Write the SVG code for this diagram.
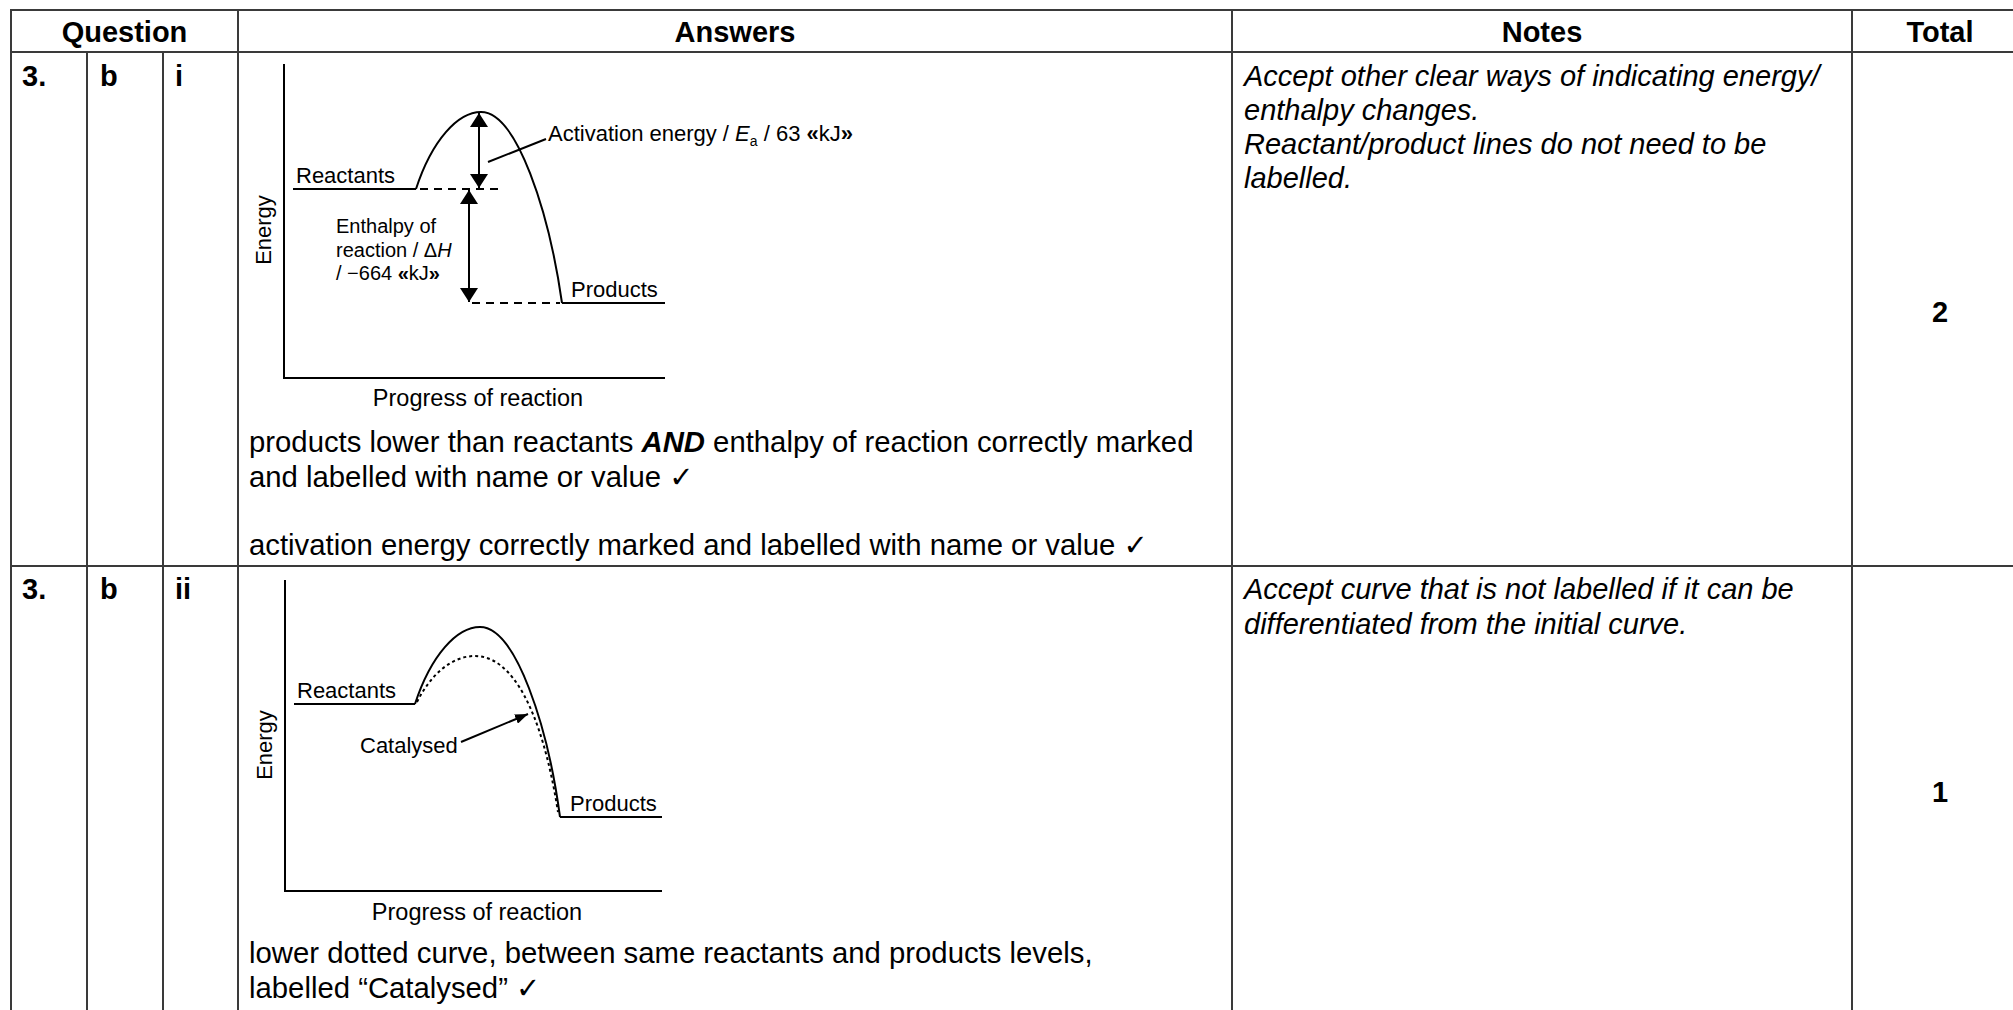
<svg xmlns="http://www.w3.org/2000/svg" width="2013" height="1010" viewBox="0 0 2013 1010">
<style>
  .grid { stroke: #3a3a3a; stroke-width: 2; fill: none; }
  .t { font-family: "Liberation Sans", Arial, sans-serif; fill: #000; }
  .hd { font-size: 29px; font-weight: bold; }
  .bd { font-size: 29.3px; }
  .it { font-size: 29px; font-style: italic; }
  .lb { font-size: 22px; }
  .px { font-size: 23.5px; }
  .sm { font-size: 20px; }
  .ln { stroke: #000; stroke-width: 2; fill: none; }
  .dash { stroke: #000; stroke-width: 2; fill: none; stroke-dasharray: 8 6; }
  .dot { stroke: #000; stroke-width: 2; fill: none; stroke-dasharray: 3 3; }
  .ck { font-family: "DejaVu Sans", sans-serif; font-size: 29px; }
</style>
<defs>
  <marker id="ah" viewBox="0 0 14 18" refX="14" refY="9" markerWidth="14" markerHeight="18" markerUnits="userSpaceOnUse" orient="auto-start-reverse">
    <path d="M0,0 L14,9 L0,18 z" fill="#000"/>
  </marker>
  <marker id="ah2" viewBox="0 0 13 10" refX="13" refY="5" markerWidth="13" markerHeight="10" markerUnits="userSpaceOnUse" orient="auto">
    <path d="M0,0 L13,5 L0,10 z" fill="#000"/>
  </marker>
</defs>
<rect width="2013" height="1010" fill="#fff"/>

<g id="table-grid">
  <line class="grid" x1="11" y1="10" x2="2013" y2="10"/>
  <line class="grid" x1="11" y1="52" x2="2013" y2="52"/>
  <line class="grid" x1="11" y1="566" x2="2013" y2="566"/>
  <line class="grid" x1="11" y1="9" x2="11" y2="1010"/>
  <line class="grid" x1="87" y1="52" x2="87" y2="1010"/>
  <line class="grid" x1="163" y1="52" x2="163" y2="1010"/>
  <line class="grid" x1="238" y1="10" x2="238" y2="1010"/>
  <line class="grid" x1="1232" y1="10" x2="1232" y2="1010"/>
  <line class="grid" x1="1852" y1="10" x2="1852" y2="1010"/>
</g>

<g id="header">
  <text class="t hd" x="124.5" y="42" text-anchor="middle">Question</text>
  <text class="t hd" x="735" y="42" text-anchor="middle">Answers</text>
  <text class="t hd" x="1542" y="42" text-anchor="middle">Notes</text>
  <text class="t hd" x="1940" y="42" text-anchor="middle">Total</text>
</g>

<g id="row1">
  <text class="t hd" x="22" y="86">3.</text>
  <text class="t hd" x="100" y="86">b</text>
  <text class="t hd" x="175" y="86">i</text>
  <text class="t bd" x="249" y="452">products lower than reactants <tspan font-weight="bold" font-style="italic">AND</tspan> enthalpy of reaction correctly marked</text>
  <text class="t bd" x="249" y="487">and labelled with name or value <tspan class="ck">✓</tspan></text>
  <text class="t bd" x="249" y="555">activation energy correctly marked and labelled with name or value <tspan class="ck">✓</tspan></text>
  <text class="t it" x="1244" y="86">Accept other clear ways of indicating energy/</text>
  <text class="t it" x="1244" y="120">enthalpy changes.</text>
  <text class="t it" x="1244" y="154">Reactant/product lines do not need to be</text>
  <text class="t it" x="1244" y="188">labelled.</text>
  <text class="t hd" x="1940" y="322" text-anchor="middle">2</text>
</g>

<g id="diagram1">
  <path class="ln" d="M284,64 L284,378 L665,378"/>
  <text class="t lb" transform="translate(271,230) rotate(-90)" text-anchor="middle">Energy</text>
  <text class="t px" x="478" y="406" text-anchor="middle">Progress of reaction</text>
  <path class="ln" d="M293,189 L416,189"/>
  <path class="ln" d="M562,303 L665,303"/>
  <path class="dash" d="M420,189 L502,189"/>
  <path class="dash" d="M472,303 L560,303"/>
  <path class="ln" d="M416,189 C432,140 458,112 481,112 C517,112 549,212 562,303"/>
  <text class="t lb" x="296" y="183">Reactants</text>
  <text class="t lb" x="571" y="297">Products</text>
  <text class="t" font-size="22" x="548" y="141">Activation energy / <tspan font-style="italic">E</tspan><tspan font-size="14" dy="5">a</tspan><tspan dy="-5"> / 63 </tspan><tspan font-weight="bold">«</tspan>kJ<tspan font-weight="bold">»</tspan></text>
  <text class="t sm" x="336" y="233">Enthalpy of</text>
  <text class="t sm" x="336" y="257">reaction / Δ<tspan font-style="italic">H</tspan></text>
  <text class="t sm" x="336" y="280">/ −664 <tspan font-weight="bold">«</tspan>kJ<tspan font-weight="bold">»</tspan></text>
</g>

<g id="row2">
  <text class="t hd" x="22" y="599">3.</text>
  <text class="t hd" x="100" y="599">b</text>
  <text class="t hd" x="175" y="599">ii</text>
  <text class="t bd" x="249" y="963">lower dotted curve, between same reactants and products levels,</text>
  <text class="t bd" x="249" y="998">labelled “Catalysed” <tspan class="ck">✓</tspan></text>
  <text class="t it" x="1244" y="599">Accept curve that is not labelled if it can be</text>
  <text class="t it" x="1244" y="634">differentiated from the initial curve.</text>
  <text class="t hd" x="1940" y="802" text-anchor="middle">1</text>
</g>

<g id="diagram2">
  <path class="ln" d="M285,580 L285,891 L662,891"/>
  <text class="t lb" transform="translate(272,745) rotate(-90)" text-anchor="middle">Energy</text>
  <text class="t px" x="477" y="920" text-anchor="middle">Progress of reaction</text>
  <path class="ln" d="M294,704 L415,704"/>
  <path class="ln" d="M560,817 L662,817"/>
  <path class="ln" d="M415,704 C431,655 457,627 480,627 C516,627 548,727 560,817"/>
  <path class="dot" d="M417,702 C431,674 452,656 475,656 C512,656 542,710 558,812"/>
  <text class="t lb" x="297" y="698">Reactants</text>
  <text class="t lb" x="570" y="811">Products</text>
  <text class="t lb" x="360" y="753">Catalysed</text>
</g>

<g id="connectors">
  <line class="ln" x1="479" y1="113" x2="479" y2="188" marker-start="url(#ah)" marker-end="url(#ah)"/>
  <line class="ln" x1="469" y1="190" x2="469" y2="302" marker-start="url(#ah)" marker-end="url(#ah)"/>
  <line class="ln" x1="488" y1="162" x2="546" y2="139"/>
  <line class="ln" x1="461" y1="742" x2="528" y2="714" marker-end="url(#ah2)"/>
</g>
</svg>
